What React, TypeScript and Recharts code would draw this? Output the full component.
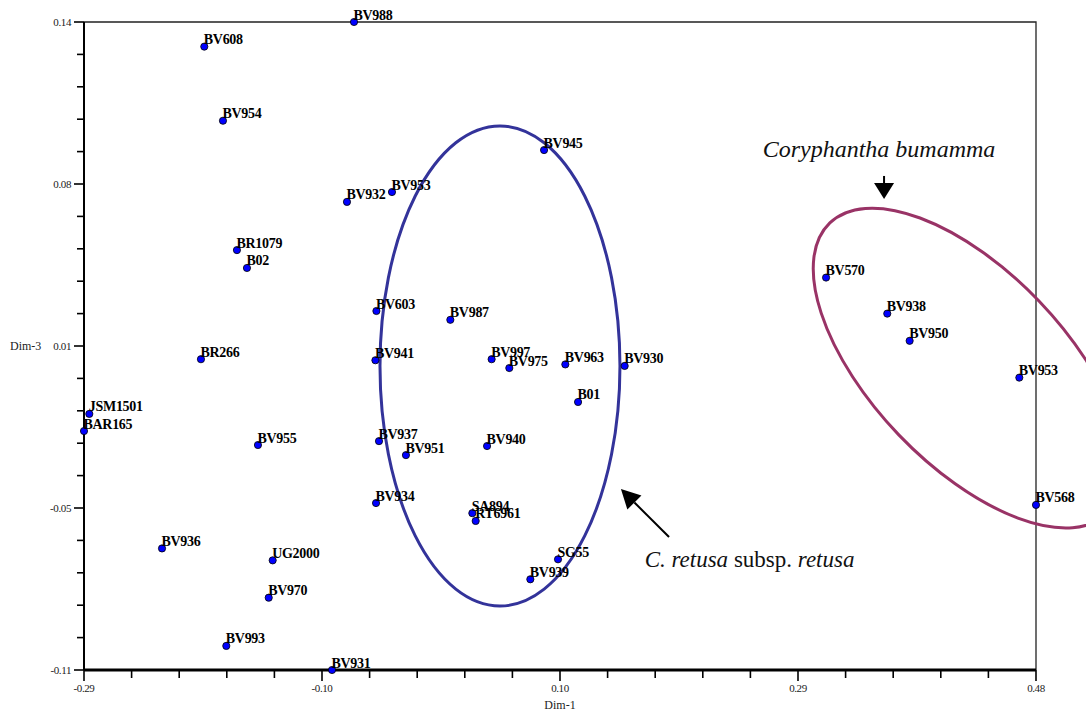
import React from "react";
import {
  ScatterChart,
  Scatter,
  XAxis,
  YAxis,
  ReferenceArea,
  ReferenceLine,
  ReferenceDot,
  Label,
} from "recharts";

// accession labels with their Dim-1 / Dim-3 coordinates
const names = [
  "BV988", "BV608", "BV954", "BV945", "BV953", "BV932", "BR1079", "B02",
  "BV603", "BV987", "BR266", "BV941", "BV997", "BV975", "BV963", "BV930",
  "B01", "JSM1501", "BAR165", "BV955", "BV937", "BV951", "BV940", "BV934",
  "SA894", "RT6961", "SG55", "BV939", "BV936", "UG2000", "BV970", "BV993",
  "BV931", "BV570", "BV938", "BV950", "BV953", "BV568",
];
const dim1 = [
  -0.0716, -0.1927, -0.1776, 0.0821, -0.0409, -0.0773, -0.1663, -0.1582,
  -0.0535, 0.0063, -0.1954, -0.0543, 0.0397, 0.054, 0.0993, 0.1473,
  0.1096, -0.2857, -0.29, -0.1493, -0.0514, -0.0296, 0.036, -0.0538,
  0.0241, 0.0268, 0.0934, 0.071, -0.2269, -0.1374, -0.1406, -0.1749,
  -0.0894, 0.3102, 0.3597, 0.3778, 0.4665, 0.48,
];
const dim3 = [
  0.14, 0.1305, 0.1019, 0.0906, 0.0744, 0.0706, 0.052, 0.0451,
  0.0285, 0.0251, 0.0099, 0.0095, 0.0099, 0.0065, 0.0079, 0.0073,
  -0.0066, -0.0112, -0.0178, -0.0232, -0.0217, -0.0271, -0.0236, -0.0456,
  -0.0495, -0.0525, -0.0673, -0.075, -0.0631, -0.0677, -0.0821, -0.1007,
  -0.11, 0.0414, 0.0275, 0.017, 0.0028, -0.0463,
];

const xMajorTicks = [-0.29, -0.0975, 0.095, 0.2875, 0.48];
const xTickLabels = ["-0.29", "-0.10", "0.10", "0.29", "0.48"];
const yMajorTicks = [-0.11, -0.0475, 0.015, 0.0775, 0.14];
const yTickLabels = ["-0.11", "-0.05", "0.01", "0.08", "0.14"];

const points = names.map((name, i) => ({ name, x: dim1[i], y: dim3[i] }));

const FONT = "'Liberation Serif', 'Times New Roman', serif";

// 4 minor ticks between every pair of major ticks
function withMinor(major: number[]) {
  const out: number[] = [];
  for (let i = 0; i < major.length - 1; i++) {
    const step = (major[i + 1] - major[i]) / 5;
    for (let k = 0; k < 5; k++) out.push(major[i] + k * step);
  }
  out.push(major[major.length - 1]);
  return out;
}

const majorIndex = (list: number[], v: number) => list.findIndex((m) => Math.abs(m - v) < 1e-6);

const XTick = (props: any) => {
  const { x, y, payload } = props;
  const idx = majorIndex(xMajorTicks, payload.value);
  return (
    <g>
      <line x1={x} x2={x} y1={y} y2={y + (idx >= 0 ? 11 : 8)} stroke="#000" strokeWidth={1.6} />
      {idx >= 0 && (
        <text x={x} y={y + 22} textAnchor="middle" fontFamily={FONT} fontSize={11} letterSpacing={-0.4} fill="#222">
          {xTickLabels[idx]}
        </text>
      )}
    </g>
  );
};

const YTick = (props: any) => {
  const { x, y, payload } = props;
  const idx = majorIndex(yMajorTicks, payload.value);
  return (
    <g>
      <line x1={x - (idx >= 0 ? 10 : 7)} x2={x} y1={y} y2={y} stroke="#000" strokeWidth={1.6} />
      {idx >= 0 && (
        <text x={x - 13} y={y + 4} textAnchor="end" fontFamily={FONT} fontSize={11} letterSpacing={-0.4} fill="#222">
          {yTickLabels[idx]}
        </text>
      )}
    </g>
  );
};

const PointShape = (props: any) => {
  const { cx, cy, payload } = props;
  return (
    <g>
      <circle cx={cx} cy={cy} r={3.6} fill="#0000ff" stroke="#000" strokeWidth={0.8} />
      <text x={cx - 0.5} y={cy - 2.5} fontFamily={FONT} fontWeight="bold" fontSize={14} letterSpacing={-0.3} fill="#000">
        {payload.name}
      </text>
    </g>
  );
};

const ellipseShape = (color: string, angle: number) => (props: any) => {
  const { x, y, width, height } = props;
  const cx = x + width / 2;
  const cy = y + height / 2;
  return (
    <ellipse
      cx={cx}
      cy={cy}
      rx={width / 2}
      ry={height / 2}
      fill="none"
      stroke={color}
      strokeWidth={3}
      transform={`rotate(${angle} ${cx} ${cy})`}
    />
  );
};

const arrowShape = (headLen: number, headHalf: number) => (props: any) => {
  const { x1, y1, x2, y2 } = props;
  const len = Math.hypot(x2 - x1, y2 - y1) || 1;
  const dx = (x2 - x1) / len;
  const dy = (y2 - y1) / len;
  const bx = x2 - dx * headLen;
  const by = y2 - dy * headLen;
  const pts = `${x2},${y2} ${bx - dy * headHalf},${by + dx * headHalf} ${bx + dy * headHalf},${by - dx * headHalf}`;
  return (
    <g>
      <line x1={x1} y1={y1} x2={bx} y2={by} stroke="#000" strokeWidth={2} />
      <polygon points={pts} fill="#000" />
    </g>
  );
};

const frameShape = (props: any) => {
  const { x, y, width, height } = props;
  return <path d={`M${x},${y} H${x + width} V${y + height}`} fill="none" stroke="#222" strokeWidth={1.3} />;
};

export default function App() {
  return (
    <div style={{ position: "absolute", left: 0, top: 0, width: 1086, height: 712, background: "#fff" }}>
      <ScatterChart width={1086} height={712} margin={{ top: 22, right: 50, bottom: 0, left: 0 }}>
        <XAxis
          type="number"
          dataKey="x"
          domain={[-0.29, 0.48]}
          ticks={withMinor(xMajorTicks)}
          interval={0}
          height={42}
          tickSize={0}
          tickMargin={0}
          tickLine={false}
          tick={<XTick />}
          axisLine={{ stroke: "#000", strokeWidth: 3 }}
        >
          <Label
            content={(p: any) => (
              <text x={p.viewBox.x + p.viewBox.width / 2} y={p.viewBox.y + 39} textAnchor="middle" fontFamily={FONT} fontSize={12} fill="#222">
                Dim-1
              </text>
            )}
          />
        </XAxis>
        <YAxis
          type="number"
          dataKey="y"
          domain={[-0.11, 0.14]}
          ticks={withMinor(yMajorTicks)}
          interval={0}
          width={84}
          tickSize={0}
          tickMargin={0}
          tickLine={false}
          tick={<YTick />}
          axisLine={{ stroke: "#000", strokeWidth: 2 }}
        >
          <Label
            content={(p: any) => (
              <text x={10} y={p.viewBox.y + p.viewBox.height / 2 + 4} fontFamily={FONT} fontSize={12} fill="#222">
                Dim-3
              </text>
            )}
          />
        </YAxis>
        <ReferenceArea x1={-0.29} x2={0.48} y1={-0.11} y2={0.14} ifOverflow="visible" shape={frameShape} />
        <ReferenceArea x1={-0.0506} x2={0.1435} y1={-0.0853} y2={0.0999} ifOverflow="visible" shape={ellipseShape("#33339a", 0)} />
        <ReferenceArea x1={0.2632} x2={0.5884} y1={-0.0309} y2={0.0439} ifOverflow="visible" shape={ellipseShape("#993366", 46.2)} />
        <ReferenceLine
          segment={[{ x: 0.3571, y: 0.0806 }, { x: 0.3571, y: 0.0717 }]}
          ifOverflow="visible"
          shape={arrowShape(16, 10)}
        />
        <ReferenceLine
          segment={[{ x: 0.1832, y: -0.0587 }, { x: 0.1443, y: -0.0402 }]}
          ifOverflow="visible"
          shape={arrowShape(19, 10)}
        />
        <ReferenceDot
          x={0.353}
          y={0.0879}
          r={0}
          ifOverflow="visible"
          shape={(p: any) => (
            <text x={p.cx} y={p.cy} textAnchor="middle" fontFamily={FONT} fontStyle="italic" fontSize={24} fill="#111">
              Coryphantha bumamma
            </text>
          )}
        />
        <ReferenceDot
          x={0.2483}
          y={-0.0703}
          r={0}
          ifOverflow="visible"
          shape={(p: any) => (
            <text x={p.cx} y={p.cy} textAnchor="middle" fontFamily={FONT} fontSize={23} fill="#111">
              <tspan fontStyle="italic">C. retusa</tspan>
              <tspan> subsp. </tspan>
              <tspan fontStyle="italic">retusa</tspan>
            </text>
          )}
        />
        <Scatter data={points} shape={<PointShape />} isAnimationActive={false} />
      </ScatterChart>
    </div>
  );
}
